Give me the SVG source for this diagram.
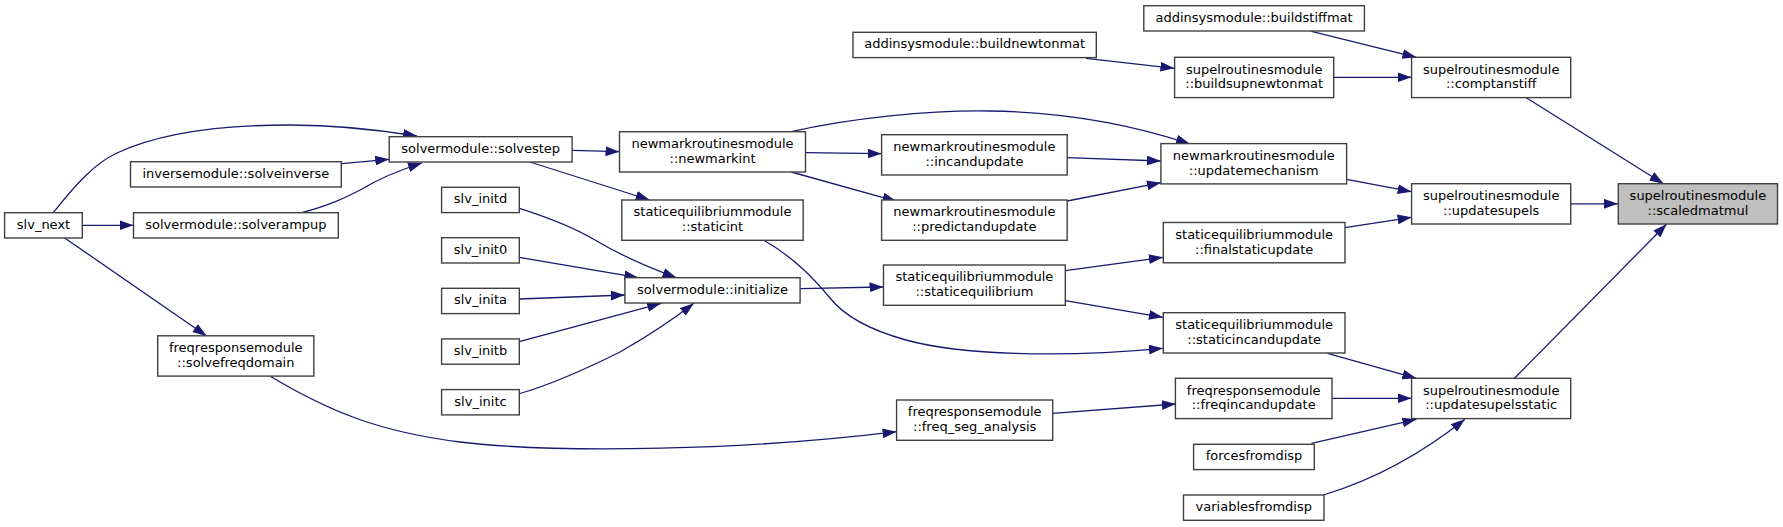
<svg xmlns="http://www.w3.org/2000/svg" width="1783" height="527" viewBox="0 0 1783 527">
<style>
.node rect{fill:#ffffff;stroke:#404040;stroke-width:1.4}
.node.focus rect{fill:#bfbfbf}
.node text{font-family:"DejaVu Sans","Liberation Sans",sans-serif;font-size:13px;fill:#000000;text-anchor:middle}
.edges path{fill:none;stroke:#191970;stroke-width:1.3;marker-end:url(#arr)}
</style>
<defs>
<marker id="arr" markerUnits="userSpaceOnUse" markerWidth="14" markerHeight="10" refX="13.3" refY="4.67" orient="auto" viewBox="0 0 13.3 9.33">
<path d="M0,0 L13.3,4.67 L0,9.33 z" fill="#191970"/>
</marker>
</defs>
<rect x="0" y="0" width="1783" height="527" fill="#ffffff"/>
<g id="edges" class="edges">
<path d="M1525.5,97.3 L1663.5,183.7"/>
<path d="M1570.7,203.8 L1618,203.8"/>
<path d="M1514.5,378.3 L1666.7,224"/>
<path d="M1311.5,31.3 L1416.4,57.3"/>
<path d="M1333.7,77.3 L1411.6,77.3"/>
<path d="M1086,58.3 L1174.4,68.3"/>
<path d="M1346.6,179.3 L1411.6,191.7"/>
<path d="M1345,227.7 L1411.6,217.3"/>
<path d="M791.3,131.7 C850,118 930,110 990,111 C1060,112 1130,124 1190,144"/>
<path d="M1067.2,157.7 L1161,161"/>
<path d="M1067.2,201 L1161,182.7"/>
<path d="M805.5,152.7 L881.6,153.7"/>
<path d="M791.3,172 L896.6,201.3"/>
<path d="M572.1,150.3 L619.5,151.7"/>
<path d="M530,162 L649.7,200"/>
<path d="M763.4,240 C795,258 815,280 830,298 C845,317 870,330 906,340 C960,355 1060,358 1162.9,348.3"/>
<path d="M800.1,288.7 L883.5,287"/>
<path d="M1065.3,270.7 L1162.9,257.3"/>
<path d="M1065.3,300.7 L1162.9,317.3"/>
<path d="M1327.6,353.3 L1416.4,378.3"/>
<path d="M1332,398.3 L1411.6,398.3"/>
<path d="M1311.5,443.3 L1416.4,419.3"/>
<path d="M1323.6,495 C1370,481 1420,455 1464.9,419.3"/>
<path d="M1052.7,413.3 L1175.9,404"/>
<path d="M269.8,376 C330,412 380,432 460,442 C560,454 750,450 896.6,431.7"/>
<path d="M64.3,237.7 L206.6,336"/>
<path d="M82.3,225.3 L133.5,225.3"/>
<path d="M53.3,212.7 C75,185 95,163 117,153 C160,133 220,125 290,125 C340,125 380,130 417,136"/>
<path d="M341.3,163.7 L389.2,159.3"/>
<path d="M301.7,212.7 C330,205 345,198 362,189 C380,178 400,170 422,163"/>
<path d="M519.3,208.3 C550,218 575,228 595,240 C620,255 650,268 676.5,277.7"/>
<path d="M519.3,257.3 L638.3,277.7"/>
<path d="M519.3,299 L624.9,295"/>
<path d="M519.3,341.7 L661.2,303.3"/>
<path d="M518.5,394 C560,382 600,362 620,352 C650,335 675,318 693.8,303.3"/>
</g>
<g id="slv_next" class="node"><rect x="4.6" y="212.7" width="77.7" height="25.3"/><text x="43.5" y="228.8">slv_next</text></g>
<g id="solveinverse" class="node"><rect x="130.5" y="161.7" width="210.8" height="25.3"/><text x="235.9" y="177.8">inversemodule::solveinverse</text></g>
<g id="solverampup" class="node"><rect x="133.5" y="212.7" width="204.8" height="25.3"/><text x="235.9" y="228.8">solvermodule::solverampup</text></g>
<g id="solvefreqdomain" class="node"><rect x="157.7" y="335.8" width="156.1" height="40.3"/><text x="235.8" y="352">freqresponsemodule</text><text x="235.8" y="366.8">::solvefreqdomain</text></g>
<g id="solvestep" class="node"><rect x="389.2" y="136.7" width="182.9" height="25.3"/><text x="480.7" y="152.8">solvermodule::solvestep</text></g>
<g id="slv_initd" class="node"><rect x="441.6" y="187.3" width="77.7" height="25.3"/><text x="480.5" y="203.4">slv_initd</text></g>
<g id="slv_init0" class="node"><rect x="441.6" y="237.7" width="77.7" height="25.3"/><text x="480.5" y="253.8">slv_init0</text></g>
<g id="slv_inita" class="node"><rect x="441.6" y="288.3" width="77.7" height="25.3"/><text x="480.5" y="304.4">slv_inita</text></g>
<g id="slv_initb" class="node"><rect x="441.6" y="338.9" width="77.7" height="25.3"/><text x="480.5" y="355">slv_initb</text></g>
<g id="slv_initc" class="node"><rect x="441.6" y="389.6" width="77.7" height="25.3"/><text x="480.5" y="405.7">slv_initc</text></g>
<g id="newmarkint" class="node"><rect x="619.5" y="131.7" width="186" height="40.3"/><text x="712.5" y="147.9">newmarkroutinesmodule</text><text x="712.5" y="162.7">::newmarkint</text></g>
<g id="staticint" class="node"><rect x="621.8" y="200" width="181.4" height="40.3"/><text x="712.5" y="216.2">staticequilibriummodule</text><text x="712.5" y="231">::staticint</text></g>
<g id="initialize" class="node"><rect x="624.9" y="277.7" width="175.2" height="25.3"/><text x="712.5" y="293.8">solvermodule::initialize</text></g>
<g id="buildnewtonmat" class="node"><rect x="853" y="32.3" width="243.3" height="25.3"/><text x="974.7" y="48.4">addinsysmodule::buildnewtonmat</text></g>
<g id="incandupdate" class="node"><rect x="881.6" y="134.7" width="185.6" height="40.3"/><text x="974.4" y="150.9">newmarkroutinesmodule</text><text x="974.4" y="165.7">::incandupdate</text></g>
<g id="predictandupdate" class="node"><rect x="881.6" y="200" width="185.6" height="40.3"/><text x="974.4" y="216.2">newmarkroutinesmodule</text><text x="974.4" y="231">::predictandupdate</text></g>
<g id="staticequilibrium" class="node"><rect x="883.5" y="265" width="181.8" height="40.3"/><text x="974.4" y="281.2">staticequilibriummodule</text><text x="974.4" y="296">::staticequilibrium</text></g>
<g id="freq_seg_analysis" class="node"><rect x="896.6" y="400" width="156.1" height="40.3"/><text x="974.7" y="416.2">freqresponsemodule</text><text x="974.7" y="431">::freq_seg_analysis</text></g>
<g id="buildstiffmat" class="node"><rect x="1143.8" y="5.7" width="220.6" height="25.3"/><text x="1254.1" y="21.8">addinsysmodule::buildstiffmat</text></g>
<g id="buildsupnewtonmat" class="node"><rect x="1174.6" y="57.3" width="159.1" height="40.3"/><text x="1254.2" y="73.5">supelroutinesmodule</text><text x="1254.2" y="88.3">::buildsupnewtonmat</text></g>
<g id="updatemechanism" class="node"><rect x="1160.9" y="143.6" width="185.7" height="40.3"/><text x="1253.8" y="159.8">newmarkroutinesmodule</text><text x="1253.8" y="174.6">::updatemechanism</text></g>
<g id="finalstaticupdate" class="node"><rect x="1163.3" y="222.5" width="181.7" height="40.3"/><text x="1254.2" y="238.7">staticequilibriummodule</text><text x="1254.2" y="253.5">::finalstaticupdate</text></g>
<g id="staticincandupdate" class="node"><rect x="1163.3" y="312.7" width="181.7" height="40.3"/><text x="1254.2" y="328.9">staticequilibriummodule</text><text x="1254.2" y="343.7">::staticincandupdate</text></g>
<g id="freqincandupdate" class="node"><rect x="1175.4" y="378.3" width="156.6" height="40.3"/><text x="1253.7" y="394.5">freqresponsemodule</text><text x="1253.7" y="409.3">::freqincandupdate</text></g>
<g id="forcesfromdisp" class="node"><rect x="1193.6" y="444.3" width="120.7" height="25.3"/><text x="1254" y="460.4">forcesfromdisp</text></g>
<g id="variablesfromdisp" class="node"><rect x="1183.5" y="495" width="140.5" height="25.3"/><text x="1253.8" y="511.1">variablesfromdisp</text></g>
<g id="comptanstiff" class="node"><rect x="1411.6" y="57.3" width="159.1" height="40.3"/><text x="1491.2" y="73.5">supelroutinesmodule</text><text x="1491.2" y="88.3">::comptanstiff</text></g>
<g id="updatesupels" class="node"><rect x="1411.6" y="183.7" width="159.1" height="40.3"/><text x="1491.2" y="199.9">supelroutinesmodule</text><text x="1491.2" y="214.7">::updatesupels</text></g>
<g id="updatesupelsstatic" class="node"><rect x="1411.6" y="378.3" width="159.1" height="40.3"/><text x="1491.2" y="394.5">supelroutinesmodule</text><text x="1491.2" y="409.3">::updatesupelsstatic</text></g>
<g id="scaledmatmul" class="node focus"><rect x="1618.3" y="183.7" width="159.2" height="40.3"/><text x="1697.9" y="199.9">supelroutinesmodule</text><text x="1697.9" y="214.7">::scaledmatmul</text></g>
</svg>
